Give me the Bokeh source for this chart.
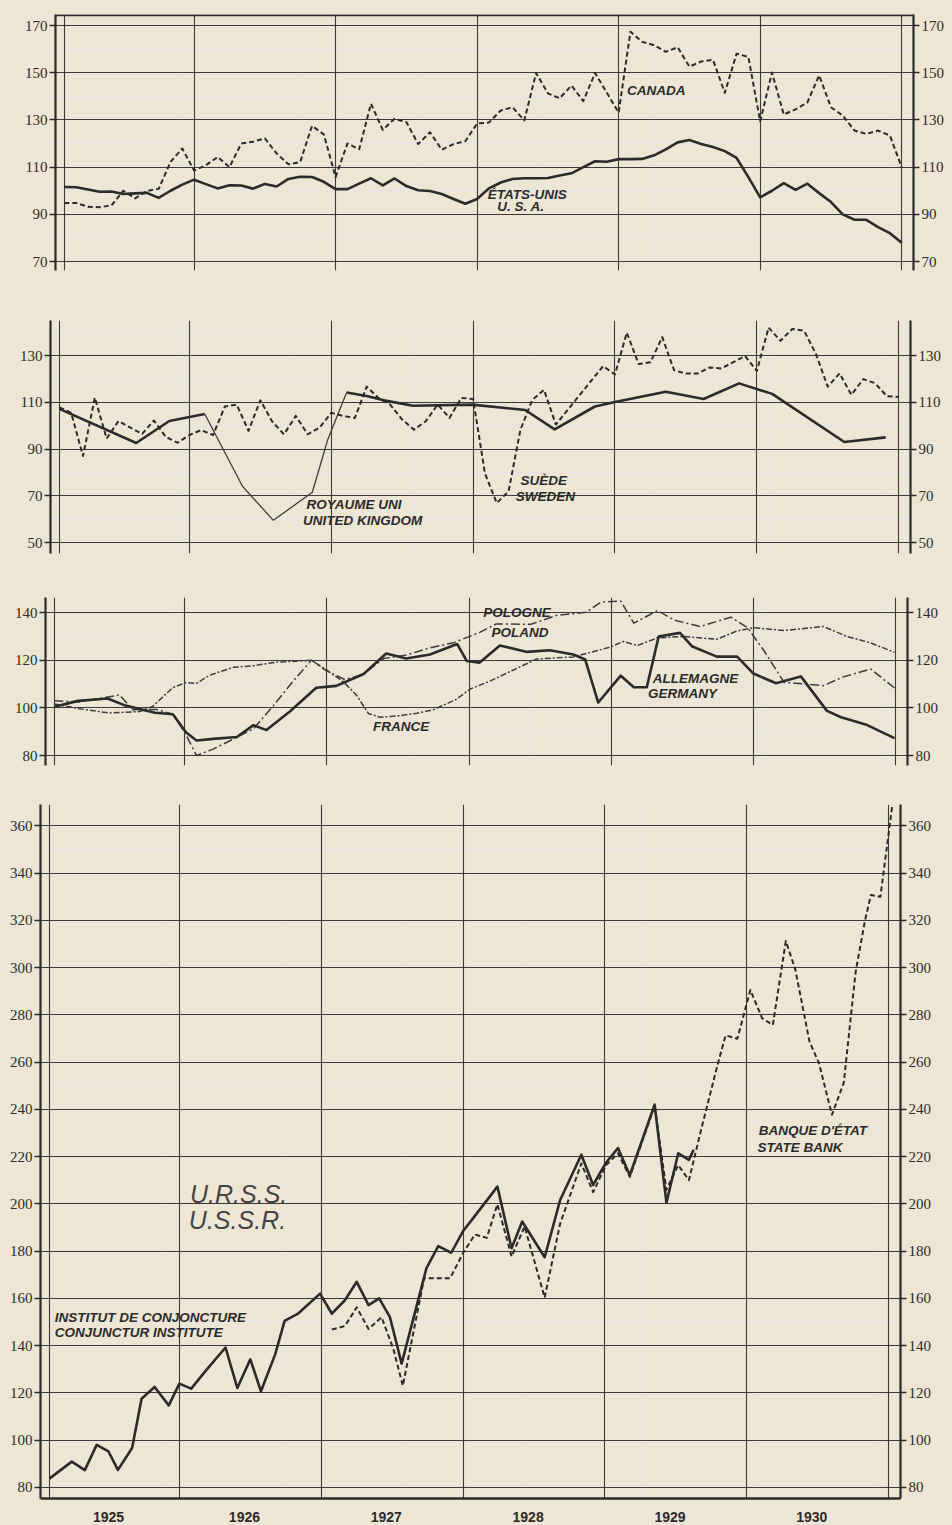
from bokeh.plotting import figure
from bokeh.layouts import column
from bokeh.models import Range1d, LinearAxis, FixedTicker, Label, Span, Grid
from bokeh.embed import file_html
from bokeh.resources import INLINE

PAPER = "#EDE6D4"
INK = "#2b2b2b"
GRID_INK = "#3a3a3a"
TICK_FONT = "Liberation Sans Narrow"
LETTER_FONT = "Liberation Sans"

# x is a month index: 0 = first month of 1925, 71 = last month of 1930
YEAR_LINES = [0, 11, 23, 35, 47, 59, 71]
YEAR_TICKS = [5, 16.5, 28.5, 40.5, 52.5, 64.5]
YEAR_NAMES = ["1925", "1926", "1927", "1928", "1929", "1930"]

# ---- United States / Canada ----
usa_m = list(range(72))
usa_v = [101.6, 101.5, 100.5, 99.6, 99.7, 98.6, 98.9, 99.1, 97.0, 100.0, 102.6, 104.7,
         102.8, 101.0, 102.3, 102.2, 100.9, 102.9, 101.8, 105.0, 105.9, 105.8, 103.8, 100.7,
         100.7, 103.0, 105.3, 102.3, 105.2, 102.0, 100.2, 99.9, 98.6, 96.5, 94.5, 96.5,
         101.0, 103.5, 105.0, 105.3, 105.3, 105.4, 106.5, 107.4, 110.0, 112.5, 112.3, 113.4,
         113.4, 113.5, 115.0, 117.5, 120.5, 121.5, 119.8, 118.5, 116.8, 113.9, 105.8, 97.2,
         100.0, 103.2, 100.4, 103.0, 99.0, 95.2, 90.0, 87.7, 87.7, 84.6, 82.0, 78.0]
canada_m = list(range(72))
canada_v = [94.8, 94.8, 93.2, 93.0, 93.8, 100.0, 96.8, 99.9, 100.8, 112.2, 117.9, 108.6,
            110.8, 114.3, 110.0, 120.0, 120.8, 122.2, 115.8, 111.2, 112.2, 127.5, 123.9, 105.8,
            120.0, 117.6, 136.9, 125.8, 130.5, 129.1, 119.8, 124.8, 117.4, 119.8, 121.0, 128.5,
            128.9, 134.0, 135.4, 129.8, 149.9, 141.3, 139.2, 144.6, 138.0, 149.9, 141.5, 133.1,
            167.4, 163.1, 161.7, 158.9, 160.8, 152.6, 154.8, 155.5, 141.5, 158.1, 156.7, 129.4,
            150.1, 132.3, 134.5, 137.4, 148.9, 135.4, 131.9, 125.5, 124.1, 125.5, 123.4, 109.9]

# ---- United Kingdom / Sweden ----
uk_m = [0, 6.5, 9.3, 12.3]
uk_v = [107.2, 92.6, 102.0, 105.0]
uk_strike_m = [12.3, 15.5, 18.1, 21.4, 22.7, 24.3]
uk_strike_v = [105.0, 74.0, 59.5, 71.5, 94.0, 114.2]
uk_late_m = [24.3, 26.0, 27.7, 29.9, 34.9, 39.4, 41.9, 45.3, 46.9, 51.3, 54.5, 57.5,
             60.3, 66.4, 69.9]
uk_late_v = [114.2, 112.7, 110.6, 108.5, 109.0, 106.7, 98.4, 108.2, 110.0, 114.5, 111.4,
             118.1, 113.6, 93.0, 95.0]
sweden_m = list(range(43)) + [46, 47, 48, 49, 50, 51, 52, 53, 54, 55, 56, 58, 59, 60,
                              61, 62, 63, 64, 65, 66, 67, 68, 69, 70, 71]
sweden_v = [107.8, 105.5, 87.0, 112.0, 94.5, 102.0, 99.2, 96.5, 102.2, 95.2, 92.7, 96.0,
            98.1, 96.0, 108.2, 109.0, 97.8, 110.9, 101.8, 96.3, 104.2, 96.3, 99.1, 105.5,
            104.2, 103.3, 116.7, 111.8, 108.9, 102.6, 98.3, 101.9, 109.0, 103.3, 111.9, 111.4,
            79.6, 66.9, 71.9, 98.2, 111.0, 115.3, 100.5,
            125.5, 121.9, 139.8, 126.4, 127.1, 137.9, 123.7, 122.3, 122.3, 124.9, 124.5, 129.8,
            123.4, 142.0, 136.3, 141.4, 140.6, 130.7, 116.7, 122.4, 113.2, 119.9, 118.2, 112.6,
            112.3]

# ---- Germany / Poland / France ----
germany_m = [0, 2, 4.5, 6, 8.5, 10, 11.1, 12, 13.4, 15.4, 16.8, 17.9, 19.9, 22.1, 23.8,
             26.1, 28, 29.7, 31.7, 34, 34.8, 35.9, 37.6, 39.9, 41.8, 43.8, 44.8, 45.9, 47.8,
             48.9, 50, 51, 52.8, 53.8, 55.9, 57.6, 59, 60.9, 63, 65.2, 66.4, 68.6, 70.9]
germany_v = [100.5, 103.0, 104.0, 101.0, 98.0, 97.4, 89.8, 86.3, 87.0, 87.8, 92.8, 90.7,
             98.6, 108.5, 109.3, 114.3, 122.9, 120.8, 122.5, 126.9, 119.8, 119.1, 126.3, 123.6,
             124.3, 122.5, 120.4, 102.3, 113.6, 108.7, 108.8, 130.1, 131.6, 126.0, 121.6, 121.7,
             114.5, 110.4, 113.3, 98.8, 96.1, 92.8, 87.3]
poland_m = [0, 2.1, 5.5, 6.6, 8.6, 10, 11, 12, 13.4, 15.1, 16.8, 18.5, 20.1, 21.7, 23,
            24.5, 26, 27.8, 29.7, 31.7, 33.7, 35.9, 37.3, 40.2, 42.4, 44.9, 46.1, 47.8, 48.9,
            50.9, 52.3, 54.5, 57.1, 58.5, 59.9, 61.6, 62.1, 64.9, 66.6, 68.9, 70.9]
poland_v = [103.1, 102.5, 105.5, 99.3, 99.4, 97.4, 89.7, 80.0, 82.7, 86.9, 91.2, 101.1,
            111.0, 120.2, 115.5, 112.0, 114.0, 120.8, 122.3, 125.3, 127.5, 131.8, 135.4, 135.2,
            139.0, 140.3, 144.5, 145.0, 135.7, 141.0, 137.0, 134.3, 138.2, 133.8, 124.0, 110.7,
            110.6, 109.4, 113.1, 116.4, 108.4]
france_m = [0, 2.1, 4.6, 7.2, 8.3, 10, 11.1, 12, 13.1, 15.1, 16.8, 18.7, 20.1, 21.7, 23,
            24.4, 25.5, 26.5, 27.5, 29.2, 30.6, 32, 33.9, 35.1, 36.8, 38.7, 40.7, 43.8, 46.9,
            48, 49.2, 50.9, 53.1, 55.9, 57.6, 59, 61.6, 64.9, 66.9, 68.9, 70.9]
france_v = [101.7, 99.7, 97.9, 98.5, 100.7, 108.6, 110.7, 110.4, 113.8, 117.1, 117.8, 119.3,
            119.6, 120.1, 115.9, 111.0, 105.4, 97.7, 96.1, 96.8, 97.8, 99.3, 103.6, 108.0,
            111.4, 115.9, 120.6, 121.5, 125.6, 128.0, 126.3, 129.5, 130.1, 128.9, 132.4, 133.8,
            132.6, 134.3, 130.1, 127.4, 123.4]

# ---- U.S.S.R. ----
institute_m = [0, 1.9, 3, 4, 5, 5.8, 7, 7.8, 8.9, 10.1, 11, 12, 13.2, 14.9, 15.9, 17, 17.9,
               19.1, 19.9, 21, 22.9, 23.9, 25, 26, 27, 27.9, 28.8, 29.8, 31.9, 32.9, 34, 35,
               36, 37.9, 39.1, 40, 41.9, 43.2, 45, 46, 47.1, 48.1, 49.1, 51.2, 52.2, 53.2,
               54.1, 54.5]
institute_v = [83.7, 90.9, 87.3, 98.0, 95.2, 87.4, 96.7, 117.5, 122.5, 114.7, 123.9, 121.8,
               129.2, 139.2, 122.1, 134.2, 120.7, 136.3, 150.5, 153.4, 162.0, 153.5, 159.2,
               167.0, 157.1, 160.0, 152.2, 132.4, 172.8, 182.1, 179.3, 188.5, 194.9, 207.3,
               181.2, 192.5, 177.4, 201.5, 220.8, 208.0, 217.5, 223.6, 212.1, 242.0, 200.5,
               221.4, 218.6, 222.9]
bank_m = [23.9, 25, 26, 27, 28.1, 29.1, 29.9, 31.7, 33.9, 35, 36, 37, 37.9, 39.1, 40.2, 41.9,
          43.2, 45, 46, 47.1, 48.1, 49.1, 51.2, 52.2, 53.2, 54.1, 55.1, 56.4, 57.2, 58.2,
          59.3, 60.3, 61.2, 62.3, 63.1, 64.3, 65.1, 66.2, 67.2, 68.2, 69, 69.5, 70.3, 71.3]
bank_v = [146.8, 148.3, 156.2, 147.0, 152.0, 138.6, 123.0, 168.5, 168.5, 179.2, 187.0, 185.6,
          199.8, 177.7, 190.4, 160.3, 191.5, 217.1, 205.0, 216.4, 221.4, 211.4, 241.4, 206.0,
          216.4, 210.0, 230.7, 256.4, 271.3, 269.9, 290.5, 278.5, 275.7, 311.2, 299.2, 268.7,
          259.6, 237.7, 251.2, 298.0, 320.0, 330.7, 330.0, 368.4]


def panel(height, left, right, top, bottom, ylo, yhi, ticks):
    p = figure(width=952, height=height, x_range=Range1d(-0.75, 72.0),
               y_range=Range1d(ylo, yhi), output_backend="svg", toolbar_location=None,
               x_axis_location=None, y_axis_location=None,
               min_border_left=left, min_border_right=right,
               min_border_top=top, min_border_bottom=bottom,
               background_fill_color=PAPER, border_fill_color=PAPER,
               outline_line_color=None, frame_align=False)
    p.add_layout(Grid(dimension=0, ticker=FixedTicker(ticks=YEAR_LINES),
                      grid_line_color=GRID_INK, grid_line_width=1.1))
    p.add_layout(Grid(dimension=1, ticker=FixedTicker(ticks=ticks),
                      grid_line_color=GRID_INK, grid_line_width=1.1))
    for side in ("left", "right"):
        ax = LinearAxis(ticker=FixedTicker(ticks=ticks),
                        axis_line_color=INK, axis_line_width=2.2,
                        major_tick_line_color=INK, major_tick_line_width=1.4,
                        major_tick_out=6, major_tick_in=0,
                        minor_tick_line_color=None,
                        major_label_text_font=TICK_FONT,
                        major_label_text_font_size="15px",
                        major_label_text_color=INK,
                        major_label_standoff=2)
        p.add_layout(ax, side)
    return p


def lettering(p, x, y, text, size="13.5px", style="bold italic", color=INK):
    p.add_layout(Label(x=x, y=y, text=text, text_font=LETTER_FONT,
                       text_font_size=size, text_font_style=style,
                       text_color=color, text_baseline="middle", text_align="left"))


SOLID = dict(line_color=INK, line_width=2.6, line_join="round")
DASHED = dict(line_color=INK, line_width=2.0, line_dash="5 3", line_join="round")
CHAIN_A = dict(line_color="#3d3d3d", line_width=1.5, line_dash="9 3 2 3", line_join="round")
CHAIN_B = dict(line_color="#3d3d3d", line_width=1.5, line_dash="6 2 2 2", line_join="round")

# Panel 1: United States and Canada
p1 = panel(290, 55, 39, 14, 20, 66.2, 174.7, [70, 90, 110, 130, 150, 170])
p1.add_layout(Span(location=174.4, dimension="width", line_color=INK, line_width=2))
p1.line(usa_m, usa_v, **SOLID)
p1.line(canada_m, canada_v, **DASHED)
lettering(p1, 47.7, 142.3, "CANADA")
lettering(p1, 35.9, 98.5, "ÉTATS-UNIS")
lettering(p1, 36.7, 93.4, "U. S. A.")

# Panel 2: United Kingdom and Sweden
p2 = panel(290, 50, 42, 30, 27, 45.3, 145.0, [50, 70, 90, 110, 130])
p2.line(uk_m, uk_v, **SOLID)
p2.line(uk_strike_m, uk_strike_v, line_color="#3d3d3d", line_width=1.3)
p2.line(uk_late_m, uk_late_v, **SOLID)
p2.line(sweden_m, sweden_v, **DASHED)
lettering(p2, 20.9, 66.1, "ROYAUME UNI")
lettering(p2, 20.6, 59.6, "UNITED KINGDOM")
lettering(p2, 39.0, 76.7, "SUÈDE")
lettering(p2, 38.6, 69.9, "SWEDEN")

# Panel 3: Germany, Poland and France
p3 = panel(210, 45, 45, 17, 25, 75.8, 146.5, [80, 100, 120, 140])
p3.line(france_m, france_v, **CHAIN_B)
p3.line(poland_m, poland_v, **CHAIN_A)
p3.line(germany_m, germany_v, **SOLID)
lettering(p3, 36.2, 140.0, "POLOGNE")
lettering(p3, 36.9, 131.6, "POLAND")
lettering(p3, 50.5, 112.3, "ALLEMAGNE")
lettering(p3, 50.1, 106.3, "GERMANY")
lettering(p3, 26.9, 92.3, "FRANCE")

# Panel 4: U.S.S.R.
p4 = panel(735, 40, 52, 14, 27, 75.3, 369.0, list(range(80, 361, 20)))
years = LinearAxis(ticker=FixedTicker(ticks=YEAR_TICKS),
                   major_label_overrides=dict(zip(YEAR_TICKS, YEAR_NAMES)),
                   axis_line_color=INK, axis_line_width=2.4,
                   major_tick_line_color=None, minor_tick_line_color=None,
                   major_label_text_font=LETTER_FONT, major_label_text_font_size="14px",
                   major_label_text_font_style="bold", major_label_text_color=INK,
                   major_label_standoff=7)
p4.add_layout(years, "below")
p4.line(bank_m, bank_v, **DASHED)
p4.line(institute_m, institute_v, **SOLID)
lettering(p4, 11.9, 204.1, "U.R.S.S.", size="25px", style="italic", color="#444444")
lettering(p4, 11.8, 193.1, "U.S.S.R.", size="25px", style="italic", color="#444444")
lettering(p4, 0.46, 151.7, "INSTITUT DE CONJONCTURE")
lettering(p4, 0.46, 145.7, "CONJUNCTUR INSTITUTE")
lettering(p4, 60.0, 231.1, "BANQUE D'ÉTAT")
lettering(p4, 59.9, 223.9, "STATE BANK")

layout = column(p1, p2, p3, p4, spacing=0, styles={"background-color": PAPER})
open("out.html", "w").write(file_html(layout, INLINE))
